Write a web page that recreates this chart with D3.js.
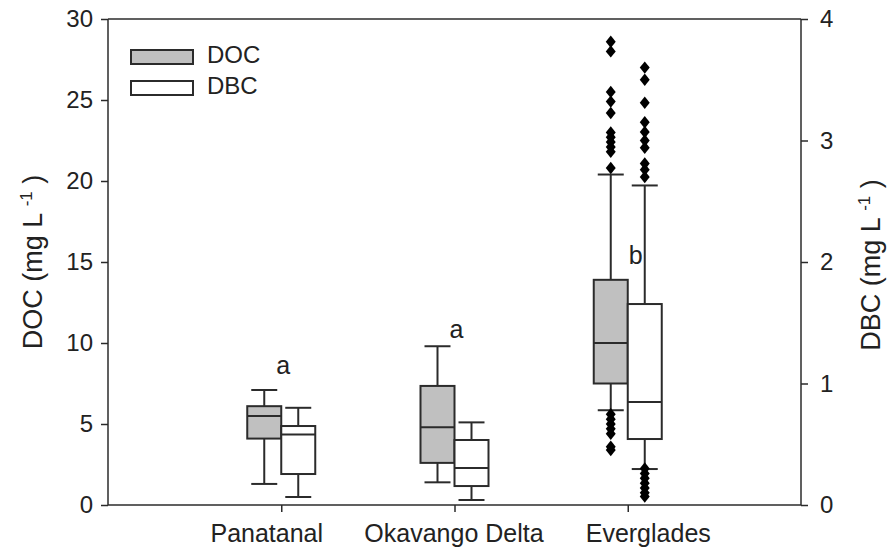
<!DOCTYPE html>
<html>
<head>
<meta charset="utf-8">
<script src="https://cdn.jsdelivr.net/npm/d3@7"></script>
<style>
  html, body { margin: 0; padding: 0; background: #fff; }
  svg text { font-family: "Liberation Sans", Arial, sans-serif; fill: #222; }
</style>
</head>
<body>
<svg id="chart" width="892" height="550"></svg>
<script>
// Sites along the x axis
const categories = ["Panatanal", "Okavango Delta", "Everglades"];

// Box summaries per site: [lower whisker, Q1, median, Q3, upper whisker]
const docBoxes = [
  [1.3, 4.1, 5.5, 6.1, 7.1],
  [1.4, 2.6, 4.8, 7.35, 9.8],
  [5.85, 7.5, 10.0, 13.9, 20.4]
];
const dbcBoxes = [
  [0.066, 0.255, 0.58, 0.65, 0.80],
  [0.041, 0.156, 0.305, 0.535, 0.68],
  [0.296, 0.543, 0.848, 1.654, 2.63]
];

// Points outside the whiskers
const docOutliers = [
  [],
  [],
  [28.6, 28.0, 25.5, 24.9, 24.2, 23.0, 22.7, 22.4, 22.1, 21.8, 20.8,
   5.6, 5.3, 5.0, 4.7, 4.4, 3.6, 3.4]
];
const dbcOutliers = [
  [],
  [],
  [3.60, 3.50, 3.31, 3.15, 3.07, 3.00, 2.94, 2.81, 2.76, 2.70,
   0.30, 0.26, 0.22, 0.18, 0.14, 0.10, 0.07]
];

// Significance letters above each site
const groupLetters = ["a", "a", "b"];
const letterValues = [8.1, 10.3, 14.9];

const docTicks = [0, 5, 10, 15, 20, 25, 30];
const dbcTicks = [0, 1, 2, 3, 4];
const seriesNames = ["DOC", "DBC"];

const svg = d3.select("#chart");
const margin = { left: 108, right: 91, top: 19, bottom: 45 };
const W = 892, H = 550;
const x0 = margin.left, x1 = W - margin.right;
const y0 = H - margin.bottom, y1 = margin.top;

const x = d3.scalePoint().domain(categories).range([x0, x1]).padding(1);
const yDoc = d3.scaleLinear().domain([0, 30]).range([y0, y1]);
const yDbc = d3.scaleLinear().domain([0, 4]).range([y0, y1]);

const stroke = "#2b2b2b";
const boxW = 34;
const capW = 26;

// Frame: top line
svg.append("line")
  .attr("x1", x0).attr("x2", x1).attr("y1", y1).attr("y2", y1)
  .attr("stroke", stroke).attr("stroke-width", 1.5);

// Axes
const left = svg.append("g").attr("transform", `translate(${x0},0)`)
  .call(d3.axisLeft(yDoc).tickValues(docTicks).tickSize(7).tickSizeOuter(0).tickPadding(8));
const right = svg.append("g").attr("transform", `translate(${x1},0)`)
  .call(d3.axisRight(yDbc).tickValues(dbcTicks).tickFormat(d3.format("d"))
    .tickSize(7).tickSizeOuter(0).tickPadding(12));
const bottom = svg.append("g").attr("transform", `translate(0,${y0})`)
  .call(d3.axisBottom(x).tickSize(7).tickSizeOuter(0).tickPadding(12));

[left, right, bottom].forEach(g => {
  g.select(".domain").attr("stroke", stroke).attr("stroke-width", 1.5);
  g.selectAll(".tick line").attr("stroke", stroke).attr("stroke-width", 1.5);
  g.selectAll(".tick text").attr("font-size", "24px").attr("fill", "#222")
    .style("font-family", "'Liberation Sans', Arial, sans-serif");
});
// Category labels sit a little apart from each other
const labelShift = [-15, -1, 20];
bottom.selectAll(".tick text").attr("font-size", "25px")
  .attr("dx", (d, i) => labelShift[i]);
// Extend the domain lines across the full frame
left.select(".domain").attr("d", `M0,${y1}V${y0}`);
right.select(".domain").attr("d", `M0,${y1}V${y0}`);
bottom.select(".domain").attr("d", `M${x0},0H${x1}`);

// Axis titles
function title(tx, ty, main) {
  const t = svg.append("text")
    .attr("transform", `translate(${tx},${ty}) rotate(-90)`)
    .attr("text-anchor", "middle")
    .attr("font-size", "27px");
  t.append("tspan").text(main + " (mg L ");
  t.append("tspan").attr("dy", -10).attr("font-size", "17px").text("-1");
  t.append("tspan").attr("dy", 10).text(" )");
}
title(42, 262, "DOC");
title(880, 265, "DBC");

// Box plots
function drawBox(cx, stats, outliers, yScale, fill) {
  const [lo, q1, med, q3, hi] = stats;
  const g = svg.append("g");
  // whiskers
  g.append("line").attr("x1", cx).attr("x2", cx)
    .attr("y1", yScale(hi)).attr("y2", yScale(q3))
    .attr("stroke", stroke).attr("stroke-width", 2);
  g.append("line").attr("x1", cx).attr("x2", cx)
    .attr("y1", yScale(q1)).attr("y2", yScale(lo))
    .attr("stroke", stroke).attr("stroke-width", 2);
  [lo, hi].forEach(v => {
    g.append("line").attr("x1", cx - capW / 2).attr("x2", cx + capW / 2)
      .attr("y1", yScale(v)).attr("y2", yScale(v))
      .attr("stroke", stroke).attr("stroke-width", 2);
  });
  // box
  g.append("rect")
    .attr("x", cx - boxW / 2).attr("width", boxW)
    .attr("y", yScale(q3)).attr("height", yScale(q1) - yScale(q3))
    .attr("fill", fill).attr("stroke", stroke).attr("stroke-width", 2);
  g.append("line").attr("x1", cx - boxW / 2).attr("x2", cx + boxW / 2)
    .attr("y1", yScale(med)).attr("y2", yScale(med))
    .attr("stroke", stroke).attr("stroke-width", 2);
  // outliers
  const diamond = d3.symbol().type(d3.symbolDiamond).size(55);
  g.selectAll("path.out").data(outliers).join("path")
    .attr("class", "out")
    .attr("d", diamond)
    .attr("transform", d => `translate(${cx},${yScale(d)}) scale(1.25,0.9)`)
    .attr("fill", "#000");
}

categories.forEach((c, i) => {
  const cx = x(c);
  drawBox(cx - boxW / 2, docBoxes[i], docOutliers[i], yDoc, "#c0c0c0");
  drawBox(cx + boxW / 2, dbcBoxes[i], dbcOutliers[i], yDbc, "#ffffff");
  svg.append("text")
    .attr("x", cx + (i === 2 ? 8 : 2)).attr("y", yDoc(letterValues[i]))
    .attr("text-anchor", "middle")
    .attr("font-size", "25px")
    .text(groupLetters[i]);
});

// Legend
const legendFills = ["#c0c0c0", "#ffffff"];
seriesNames.forEach((name, i) => {
  const ly = 50 + i * 31;
  svg.append("rect").attr("x", 131).attr("y", ly).attr("width", 62).attr("height", 14)
    .attr("fill", legendFills[i]).attr("stroke", stroke).attr("stroke-width", 2);
  svg.append("text").attr("x", 207).attr("y", ly + 13)
    .attr("font-size", "24px").text(name);
});
</script>
</body>
</html>
